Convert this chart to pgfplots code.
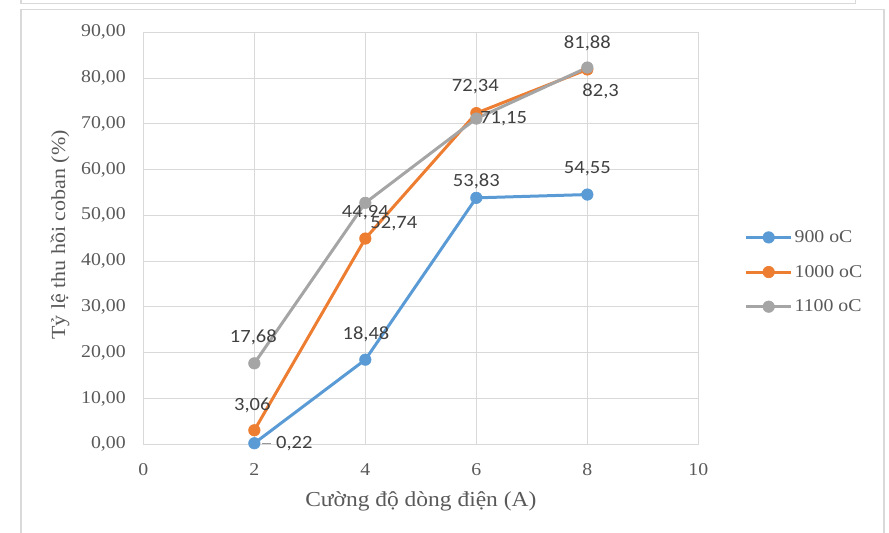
\documentclass[border=0pt]{standalone}
\usepackage{fontspec}
\setmainfont{Liberation Serif}[FakeStretch=1.1]
\newfontfamily\lblfont{Carlito}[FakeStretch=1.1]
\usepackage{pgfplots}
\usepackage{pgfplotstable}
\pgfplotsset{compat=1.18}

\definecolor{sblue}{HTML}{5B9BD5}
\definecolor{sorange}{HTML}{ED7D31}
\definecolor{sgray}{HTML}{A5A5A5}
\definecolor{gridc}{HTML}{D9D9D9}
\definecolor{tickc}{HTML}{595959}
\definecolor{labc}{HTML}{404040}

% recovery (%) vs current (A); dx/dy place each value label (pt)
\pgfplotstableread{
x y dx dy
2 0.22 30 0
4 18.48 0.5 19
6 53.83 0 12.5
8 54.55 0 19.5
}\tblue
\pgfplotstableread{
x y dx dy
2 3.06 -1.5 19
4 44.94 0 19.5
6 72.34 -0.75 19.5
8 81.88 0 19.5
}\torange
\pgfplotstableread{
x y dx dy
2 17.68 -0.75 19.5
4 52.74 21.4 -15.75
6 71.15 20.5 0
8 82.3 10 -18
}\tgray

\begin{document}
\begin{tikzpicture}
\useasboundingbox (0,0) rectangle (666.75pt,399pt);
% surrounding frames
\draw[gridc, line width=1.1pt] (15.9pt,-5pt) -- (15.9pt,392.0pt) -- (663pt,392.0pt) -- (663pt,-5pt);
\draw[gridc, line width=1.1pt] (15.9pt,410pt) -- (15.9pt,396.4pt) -- (641.8pt,396.4pt) -- (641.8pt,410pt);
\begin{axis}[
  at={(107.5pt,65.8pt)}, anchor=south west,
  scale only axis, width=416.25pt, height=309pt,
  xmin=0, xmax=10, ymin=0, ymax=90,
  xtick={0,2,...,10}, ytick={0,10,...,90},
  grid=major, major grid style={gridc, line width=0.75pt},
  axis line style={gridc, line width=0.75pt},
  major tick length=0pt,
  tick label style={font=\fontsize{13.5}{15}\selectfont, text=tickc},
  /pgf/number format/assume math mode=true,
  yticklabel={\pgfmathprintnumber[fixed,fixed zerofill,precision=2,use comma]{\tick}},
  yticklabel style={inner sep=0pt, anchor=east, xshift=-13pt},
  xticklabel style={inner sep=0pt, anchor=north, yshift=-14pt},
  xlabel={Cường độ dòng điện (A)},
  ylabel={Tỷ lệ thu hồi coban (\%)},
  xlabel style={font=\fontsize{16}{18}\selectfont, text=tickc,
    at={(axis description cs:0.5,-0.138)}, anchor=center},
  ylabel style={font=\fontsize{15}{17}\selectfont, text=tickc,
    at={(axis description cs:-0.150,0.508)}, anchor=center},
  clip=false,
  legend style={at={(1.083,0.418)}, anchor=west, draw=none, fill=none,
    font=\fontsize{13.5}{15}\selectfont, text=tickc, row sep=12.5pt,
    inner sep=0pt, nodes={inner sep=1.5pt}},
  legend cell align=left,
  legend image code/.code={\draw[#1, mark repeat=2, mark phase=2]
    plot coordinates {(0pt,0pt) (16.9pt,0pt) (33.75pt,0pt)};},
  every axis plot/.append style={line width=2.25pt, mark=*, mark size=4.3pt},
  point meta=y,
  nodes near coords={\pgfmathprintnumber[fixed,precision=2,use comma]{\pgfplotspointmeta}},
  visualization depends on={\thisrow{dx}\as\ldx},
  visualization depends on={\thisrow{dy}\as\ldy},
  nodes near coords style={font=\lblfont\fontsize{14}{16}\selectfont, text=labc,
    anchor=center, inner sep=0pt, xshift=\ldx, yshift=\ldy},
]
\addplot[color=sblue, mark options={fill=sblue, line width=0.5pt}] table[x=x,y=y] {\tblue};
\addlegendentry{900 oC}
\addplot[color=sorange, mark options={fill=sorange, line width=0.5pt}] table[x=x,y=y] {\torange};
\addlegendentry{1000 oC}
\addplot[color=sgray, mark options={fill=sgray, line width=0.5pt}] table[x=x,y=y] {\tgray};
\addlegendentry{1100 oC}
% leader line of the 0,22 label
\draw[gridc!70!black, line width=0.75pt] ([xshift=6pt]axis cs:2,0.22) -- ([xshift=12.5pt]axis cs:2,0.22);
\end{axis}
\end{tikzpicture}
\end{document}
